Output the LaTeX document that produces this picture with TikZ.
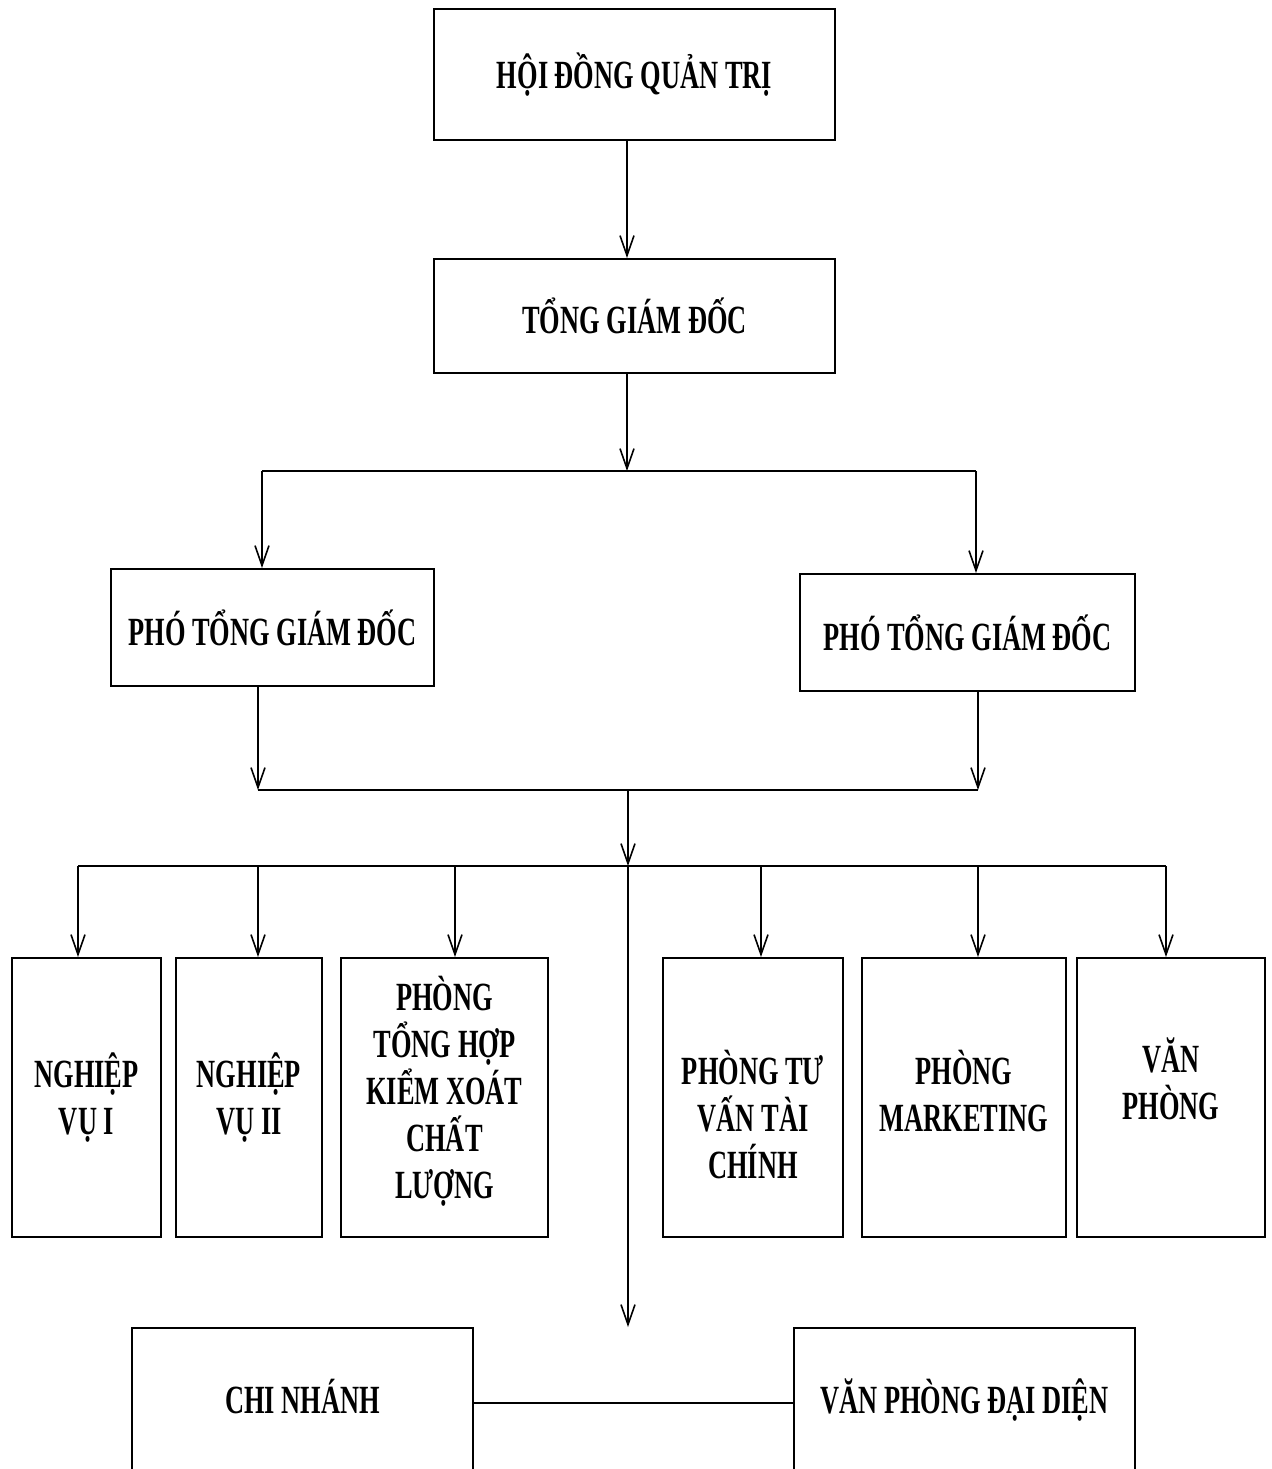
\documentclass[tikz,border=0pt]{standalone}
\usepackage{fontspec}
\setmainfont{Liberation Serif}[FakeStretch=0.66]
\usetikzlibrary{arrows.meta}

\begin{document}
\begin{tikzpicture}[x=0.5pt, y=-0.5pt,
    box/.style={draw, line width=1pt, align=center, inner sep=2pt,
        font=\fontsize{20}{23.5}\selectfont\bfseries},
    link/.style={line width=0.8pt, -{Straight Barb[length=10pt, width=7pt]}},
    bar/.style={line width=1.3pt}]
    \fill[white] (0,0) rectangle (1272,1469);
    \useasboundingbox (0,0) rectangle (1272,1469);
    \clip (0,0) rectangle (1272,1469);

    \node[box, minimum width=200.5pt, minimum height=65.5pt] (hdqt) at (634.5,74.5) {HỘI ĐỒNG QUẢN TRỊ};
    \node[box, minimum width=200.5pt, minimum height=57pt] (tgd) at (634.5,316) {TỔNG GIÁM ĐỐC};
    \node[box, minimum width=161.5pt, minimum height=58.5pt] (pho1) at (272.5,627.5) {PHÓ TỔNG GIÁM ĐỐC};
    \node[box, minimum width=167.5pt, minimum height=58.5pt] (pho2) at (967.5,632.5) {PHÓ TỔNG GIÁM ĐỐC};

    \node[box, minimum width=74.5pt, minimum height=139.5pt] (nv1) at (86.5,1097.5) {NGHIỆP\\VỤ I};
    \node[box, minimum width=73pt, minimum height=139.5pt] (nv2) at (249,1097.5) {NGHIỆP\\VỤ II};
    \node[box, minimum width=103.5pt, minimum height=139.5pt, text depth=10pt] (pth) at (444.5,1097.5) {PHÒNG\\TỔNG HỢP\\KIỂM XOÁT\\CHẤT\\LƯỢNG};
    \node[box, minimum width=90pt, minimum height=139.5pt] (ptv) at (753,1097.5) {\rule{0pt}{34pt}PHÒNG TƯ\\VẤN TÀI\\CHÍNH};
    \node[box, minimum width=102pt, minimum height=139.5pt, text depth=7pt] (mkt) at (964,1097.5) {PHÒNG\\MARKETING};
    \node[box, minimum width=94pt, minimum height=139.5pt, text depth=19pt] (vp) at (1171,1097.5) {VĂN\\PHÒNG};

    \node[box, minimum width=170.5pt, minimum height=75pt, text depth=7pt] (chi) at (302.5,1403) {CHI NHÁNH};
    \node[box, minimum width=170.5pt, minimum height=75pt, text depth=7pt] (vpdd) at (964.5,1403) {VĂN PHÒNG ĐẠI DIỆN};

    \coordinate (j1) at (627,471);
    \coordinate (j1l) at (262,471);
    \coordinate (j1r) at (976,471);
    \coordinate (j2) at (628,790);
    \coordinate (j2l) at (258,790);
    \coordinate (j2r) at (978,790);
    \coordinate (j3) at (628,866);
    \coordinate (b0) at (78,866);
    \coordinate (b6) at (1166,866);

    \draw[link] (hdqt.south -| j1) -- (tgd.north -| j1);
    \draw[link] (tgd.south -| j1) -- (j1);
    \draw[bar] (j1l) -- (j1r);
    \draw[link] (j1l) -- (pho1.north -| j1l);
    \draw[link] (j1r) -- (pho2.north -| j1r);
    \draw[link] (pho1.south -| j2l) -- (j2l);
    \draw[link] (pho2.south -| j2r) -- (j2r);
    \draw[bar] (j2l) -- (j2r);
    \draw[link] (j2) -- (j3);
    \draw[bar] (b0) -- (b6);
    \foreach \n/\x in {nv1/78, nv2/258, pth/455, ptv/761, mkt/978, vp/1166}
        \draw[link] (\x,866) -- (\n.north -| \x,0);
    \draw[link] (j3) -- (j3 |- chi.north);
    \draw[bar] (chi.east) -- (vpdd.west);
\end{tikzpicture}
\end{document}
